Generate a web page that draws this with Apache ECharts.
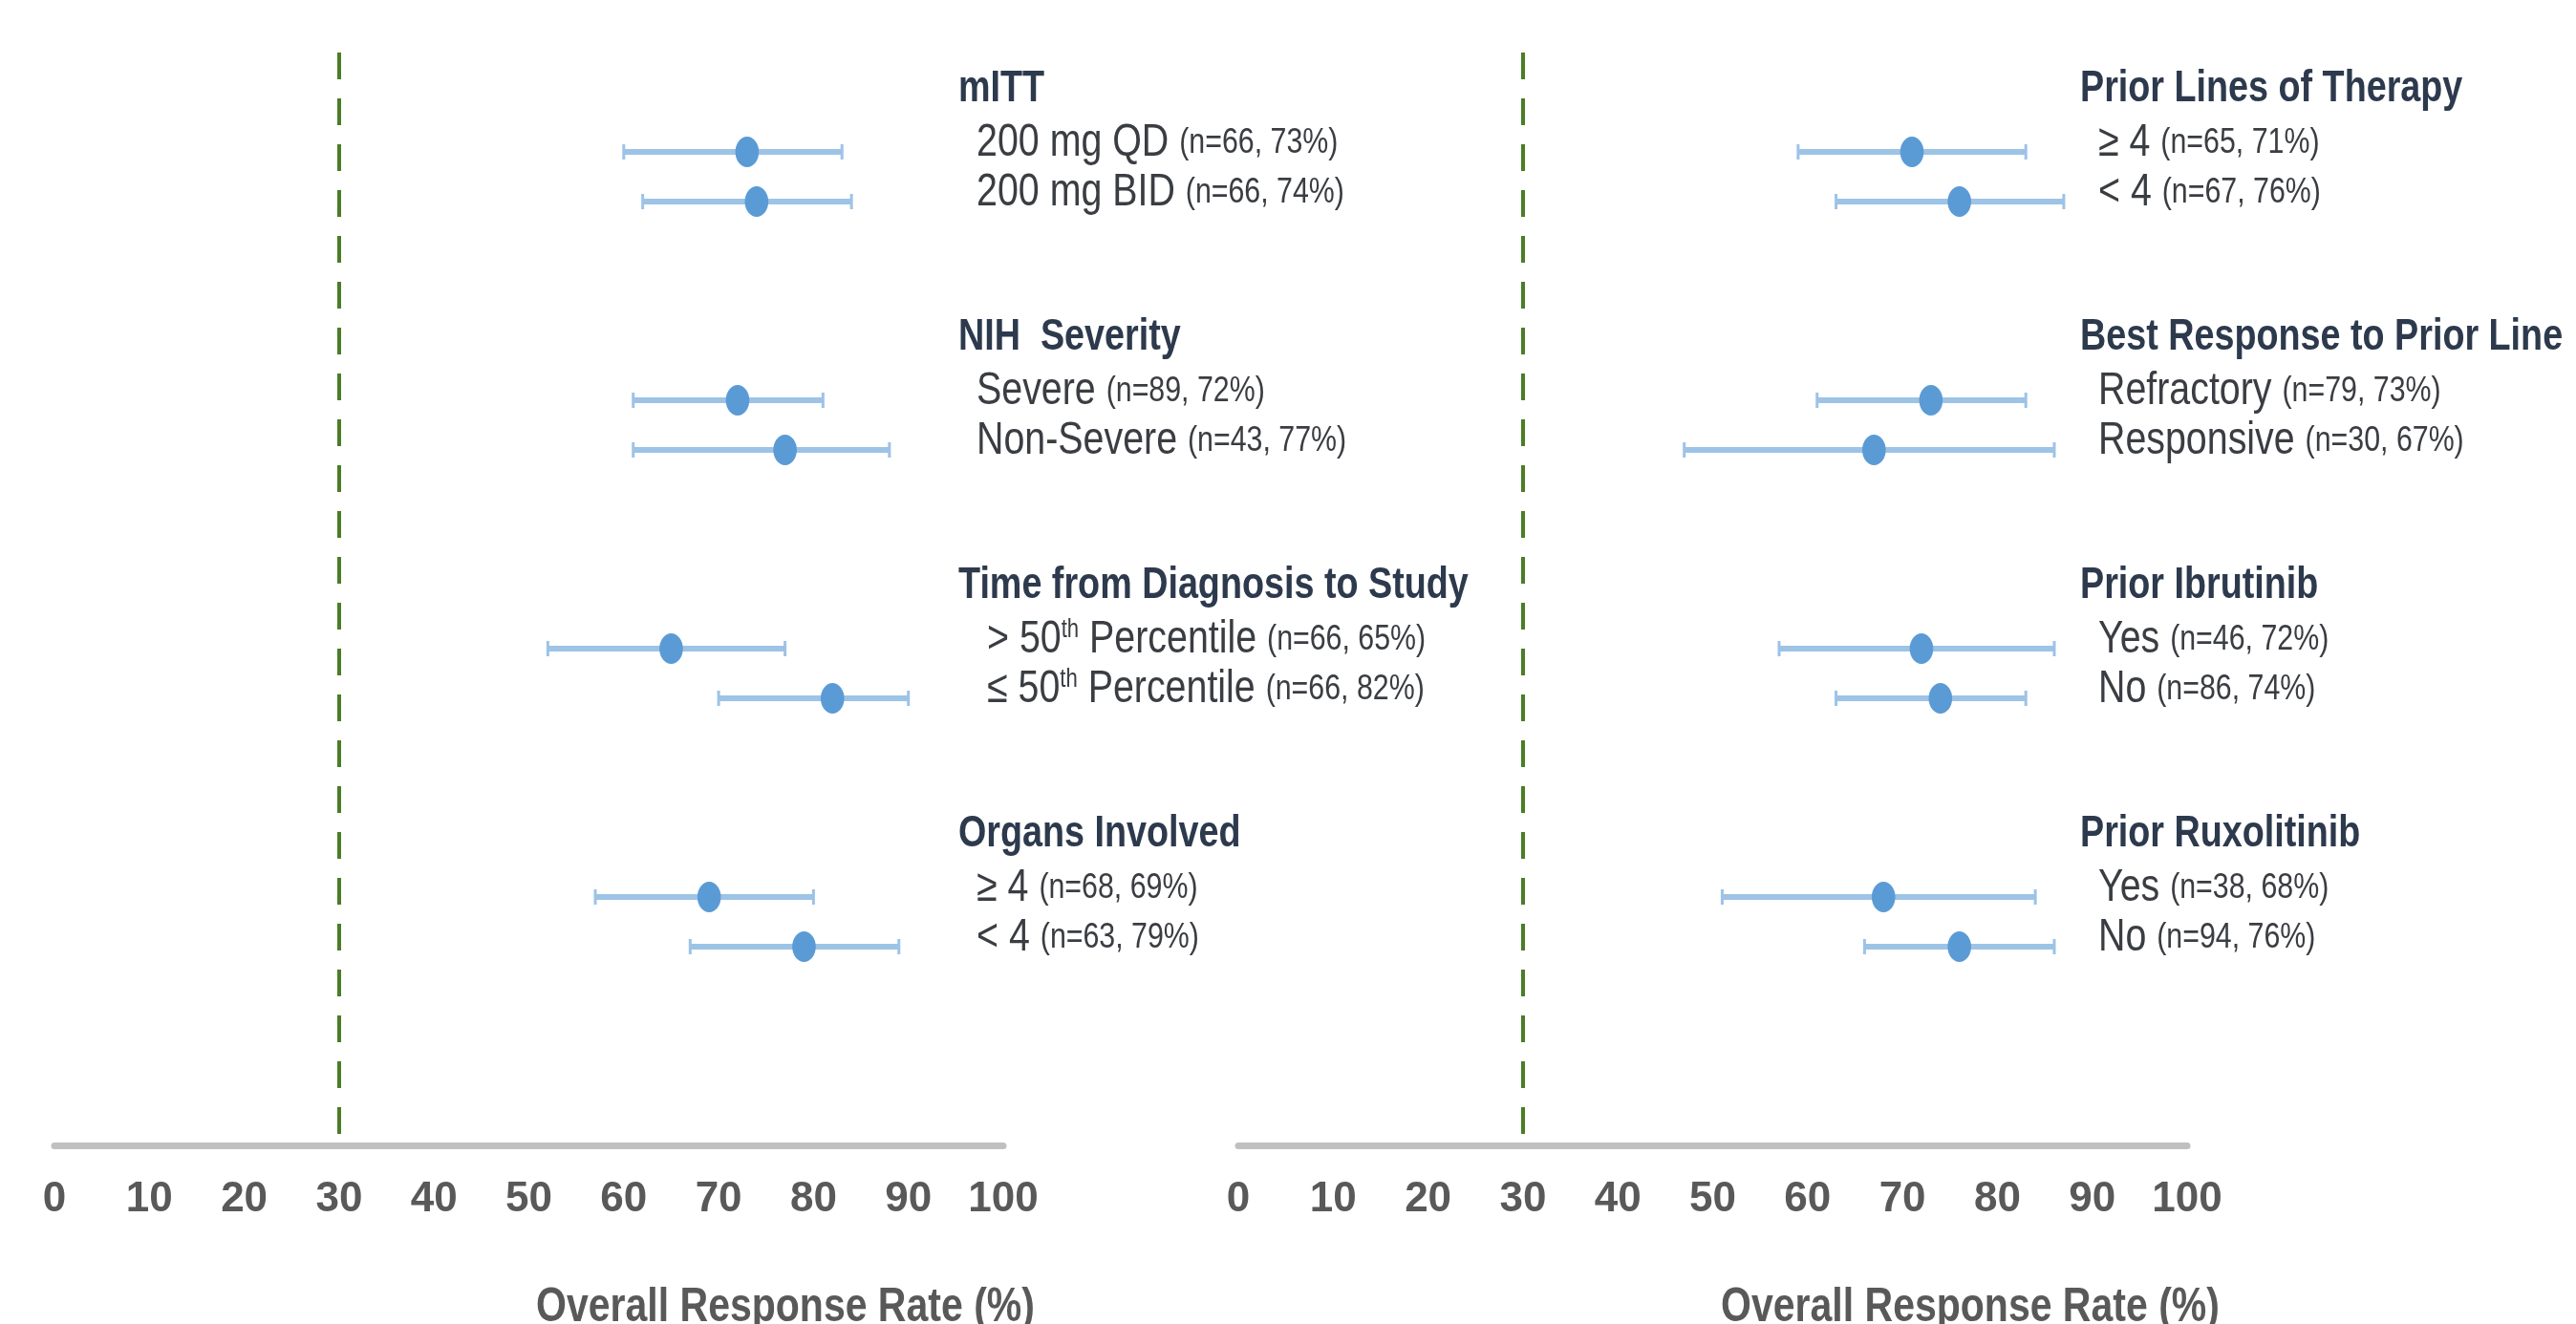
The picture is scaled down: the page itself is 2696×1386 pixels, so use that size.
<!DOCTYPE html>
<html><head><meta charset="utf-8">
<script src="https://cdn.jsdelivr.net/npm/echarts@6/dist/echarts.min.js"></script>
<style>html,body{margin:0;padding:0;background:#fff}#c{width:2696px;height:1386px}</style>
</head><body><div id="c"></div>
<script>
// ---------- data ----------
const xTickMin = 0, xTickMax = 100, xTickStep = 10;
const threshold = 30;
const axisTitle = 'Overall Response Rate (%)';

const leftGroups = ['mITT', 'NIH  Severity', 'Time from Diagnosis to Study', 'Organs Involved'];
const leftLabels = ['200 mg QD', '200 mg BID', 'Severe', 'Non-Severe', ' > 50{sup|th} Percentile', ' ≤ 50{sup|th} Percentile', '≥ 4', '< 4'];
const leftN   = [66, 66, 89, 43, 66, 66, 68, 63];
const leftORR = [73, 74, 72, 77, 65, 82, 69, 79];
const leftLo  = [60, 62, 61, 61, 52, 70, 57, 67];
const leftHi  = [83, 84, 81, 88, 77, 90, 80, 89];

const rightGroups = ['Prior Lines of Therapy', 'Best Response to Prior Line', 'Prior Ibrutinib', 'Prior Ruxolitinib'];
const rightLabels = ['≥ 4', '< 4', 'Refractory', 'Responsive', 'Yes', 'No', 'Yes', 'No'];
const rightN   = [65, 67, 79, 30, 46, 86, 38, 94];
const rightORR = [71, 76, 73, 67, 72, 74, 68, 76];
const rightLo  = [59, 63, 61, 47, 57, 63, 51, 66];
const rightHi  = [83, 87, 83, 86, 86, 83, 84, 86];

// ---------- style / layout ----------
const FONT = '"Liberation Sans", Arial, sans-serif';
const SQ = 0.82; // horizontal text compression seen in the reference
const BAR = '#9dc3e6', DOT = '#5b9bd5', HEAD = '#2d3a4d', TXT = '#3a3d42', AXIS = '#595959';
const ROWS_PER_GROUP = 2, SLOT_STRIDE = 5;

function buildData(lo, hi, orr) {
  return orr.map((v, i) => [lo[i], hi[i], v, Math.floor(i / ROWS_PER_GROUP) * SLOT_STRIDE + (i % ROWS_PER_GROUP)]);
}

function makeRender(groups, labels, ns, orrs, labelAt) {
  return function (params, api) {
    const i = params.dataIndex;
    const slot = api.value(3);
    const pLo = api.coord([api.value(0), slot]);
    const pHi = api.coord([api.value(1), slot]);
    const pM = api.coord([api.value(2), slot]);
    const y = pLo[1];
    const tx = api.coord([labelAt, slot])[0];
    const ch = [
      { type: 'line', shape: { x1: pLo[0], y1: y, x2: pHi[0], y2: y }, style: { stroke: BAR, lineWidth: 6 } },
      { type: 'line', shape: { x1: pLo[0], y1: y - 8, x2: pLo[0], y2: y + 8 }, style: { stroke: BAR, lineWidth: 3 } },
      { type: 'line', shape: { x1: pHi[0], y1: y - 8, x2: pHi[0], y2: y + 8 }, style: { stroke: BAR, lineWidth: 3 } },
      { type: 'circle', x: pM[0], y: y, scaleX: 0.77, shape: { cx: 0, cy: 0, r: 16 }, style: { fill: DOT } },
      { type: 'text', x: tx + 19, y: y - 9, scaleX: SQ, style: {
          text: '{m|' + labels[i].replace(/\{sup\|th\}/, '}{sup|th}{m|') + ' }{n|(n=' + ns[i] + ', ' + orrs[i] + '%)}',
          verticalAlign: 'middle', align: 'left',
          rich: {
            m: { fontSize: 48, fontFamily: FONT, fill: TXT, color: TXT, lineHeight: 48 },
            sup: { fontSize: 27, fontFamily: FONT, fill: TXT, color: TXT, verticalAlign: 'top', lineHeight: 27 },
            n: { fontSize: 37, fontFamily: FONT, fill: TXT, color: TXT, lineHeight: 48 }
          }
        } }
    ];
    if (i % ROWS_PER_GROUP === 0) {
      ch.push({ type: 'text', x: tx, y: y - 66, scaleX: SQ, style: {
        text: groups[Math.floor(i / ROWS_PER_GROUP)], fontSize: 46, fontWeight: 'bold', fontFamily: FONT,
        fill: HEAD, verticalAlign: 'middle', align: 'left' } });
    }
    return { type: 'group', children: ch };
  };
}

const xAxisCommon = {
  type: 'value', min: xTickMin, max: xTickMax, interval: xTickStep, position: 'bottom',
  axisLine: { show: true, onZero: false, lineStyle: { color: '#c0c0c0', width: 7 } },
  axisTick: { show: false }, splitLine: { show: false },
  axisLabel: { margin: 35, fontSize: 44, fontWeight: 'bold', fontFamily: FONT, color: AXIS }
};
const yAxisCommon = { type: 'value', inverse: true, min: -2, max: 20, show: false };

function refLine(idx) {
  return {
    type: 'line', xAxisIndex: idx, yAxisIndex: idx, data: [], silent: true,
    markLine: { silent: true, symbol: 'none', label: { show: false },
      lineStyle: { color: '#4a7d26', width: 4, type: [28, 20] },
      data: [{ xAxis: threshold }] }
  };
}

const chart = echarts.init(document.getElementById('c'));
chart.setOption({
  animation: false,
  backgroundColor: '#ffffff',
  grid: [
    { left: 57, width: 993, top: 55, height: 1144 },
    { left: 1296, width: 993, top: 55, height: 1144 }
  ],
  xAxis: [Object.assign({ gridIndex: 0 }, xAxisCommon), Object.assign({ gridIndex: 1 }, xAxisCommon)],
  yAxis: [Object.assign({ gridIndex: 0 }, yAxisCommon), Object.assign({ gridIndex: 1 }, yAxisCommon)],
  series: [
    refLine(0), refLine(1),
    { type: 'custom', xAxisIndex: 0, yAxisIndex: 0, clip: false,
      encode: { x: [0, 1, 2], y: 3 },
      data: buildData(leftLo, leftHi, leftORR),
      renderItem: makeRender(leftGroups, leftLabels, leftN, leftORR, 95.27) },
    { type: 'custom', xAxisIndex: 1, yAxisIndex: 1, clip: false,
      encode: { x: [0, 1, 2], y: 3 },
      data: buildData(rightLo, rightHi, rightORR),
      renderItem: makeRender(rightGroups, rightLabels, rightN, rightORR, 88.72) }
  ],
  graphic: [
    { type: 'text', x: 822, y: 1344, scaleX: SQ, style: { text: axisTitle, fontSize: 50, fontWeight: 'bold', fontFamily: FONT, fill: AXIS, align: 'center', verticalAlign: 'top' } },
    { type: 'text', x: 2062, y: 1344, scaleX: SQ, style: { text: axisTitle, fontSize: 50, fontWeight: 'bold', fontFamily: FONT, fill: AXIS, align: 'center', verticalAlign: 'top' } }
  ]
});
</script></body></html>
